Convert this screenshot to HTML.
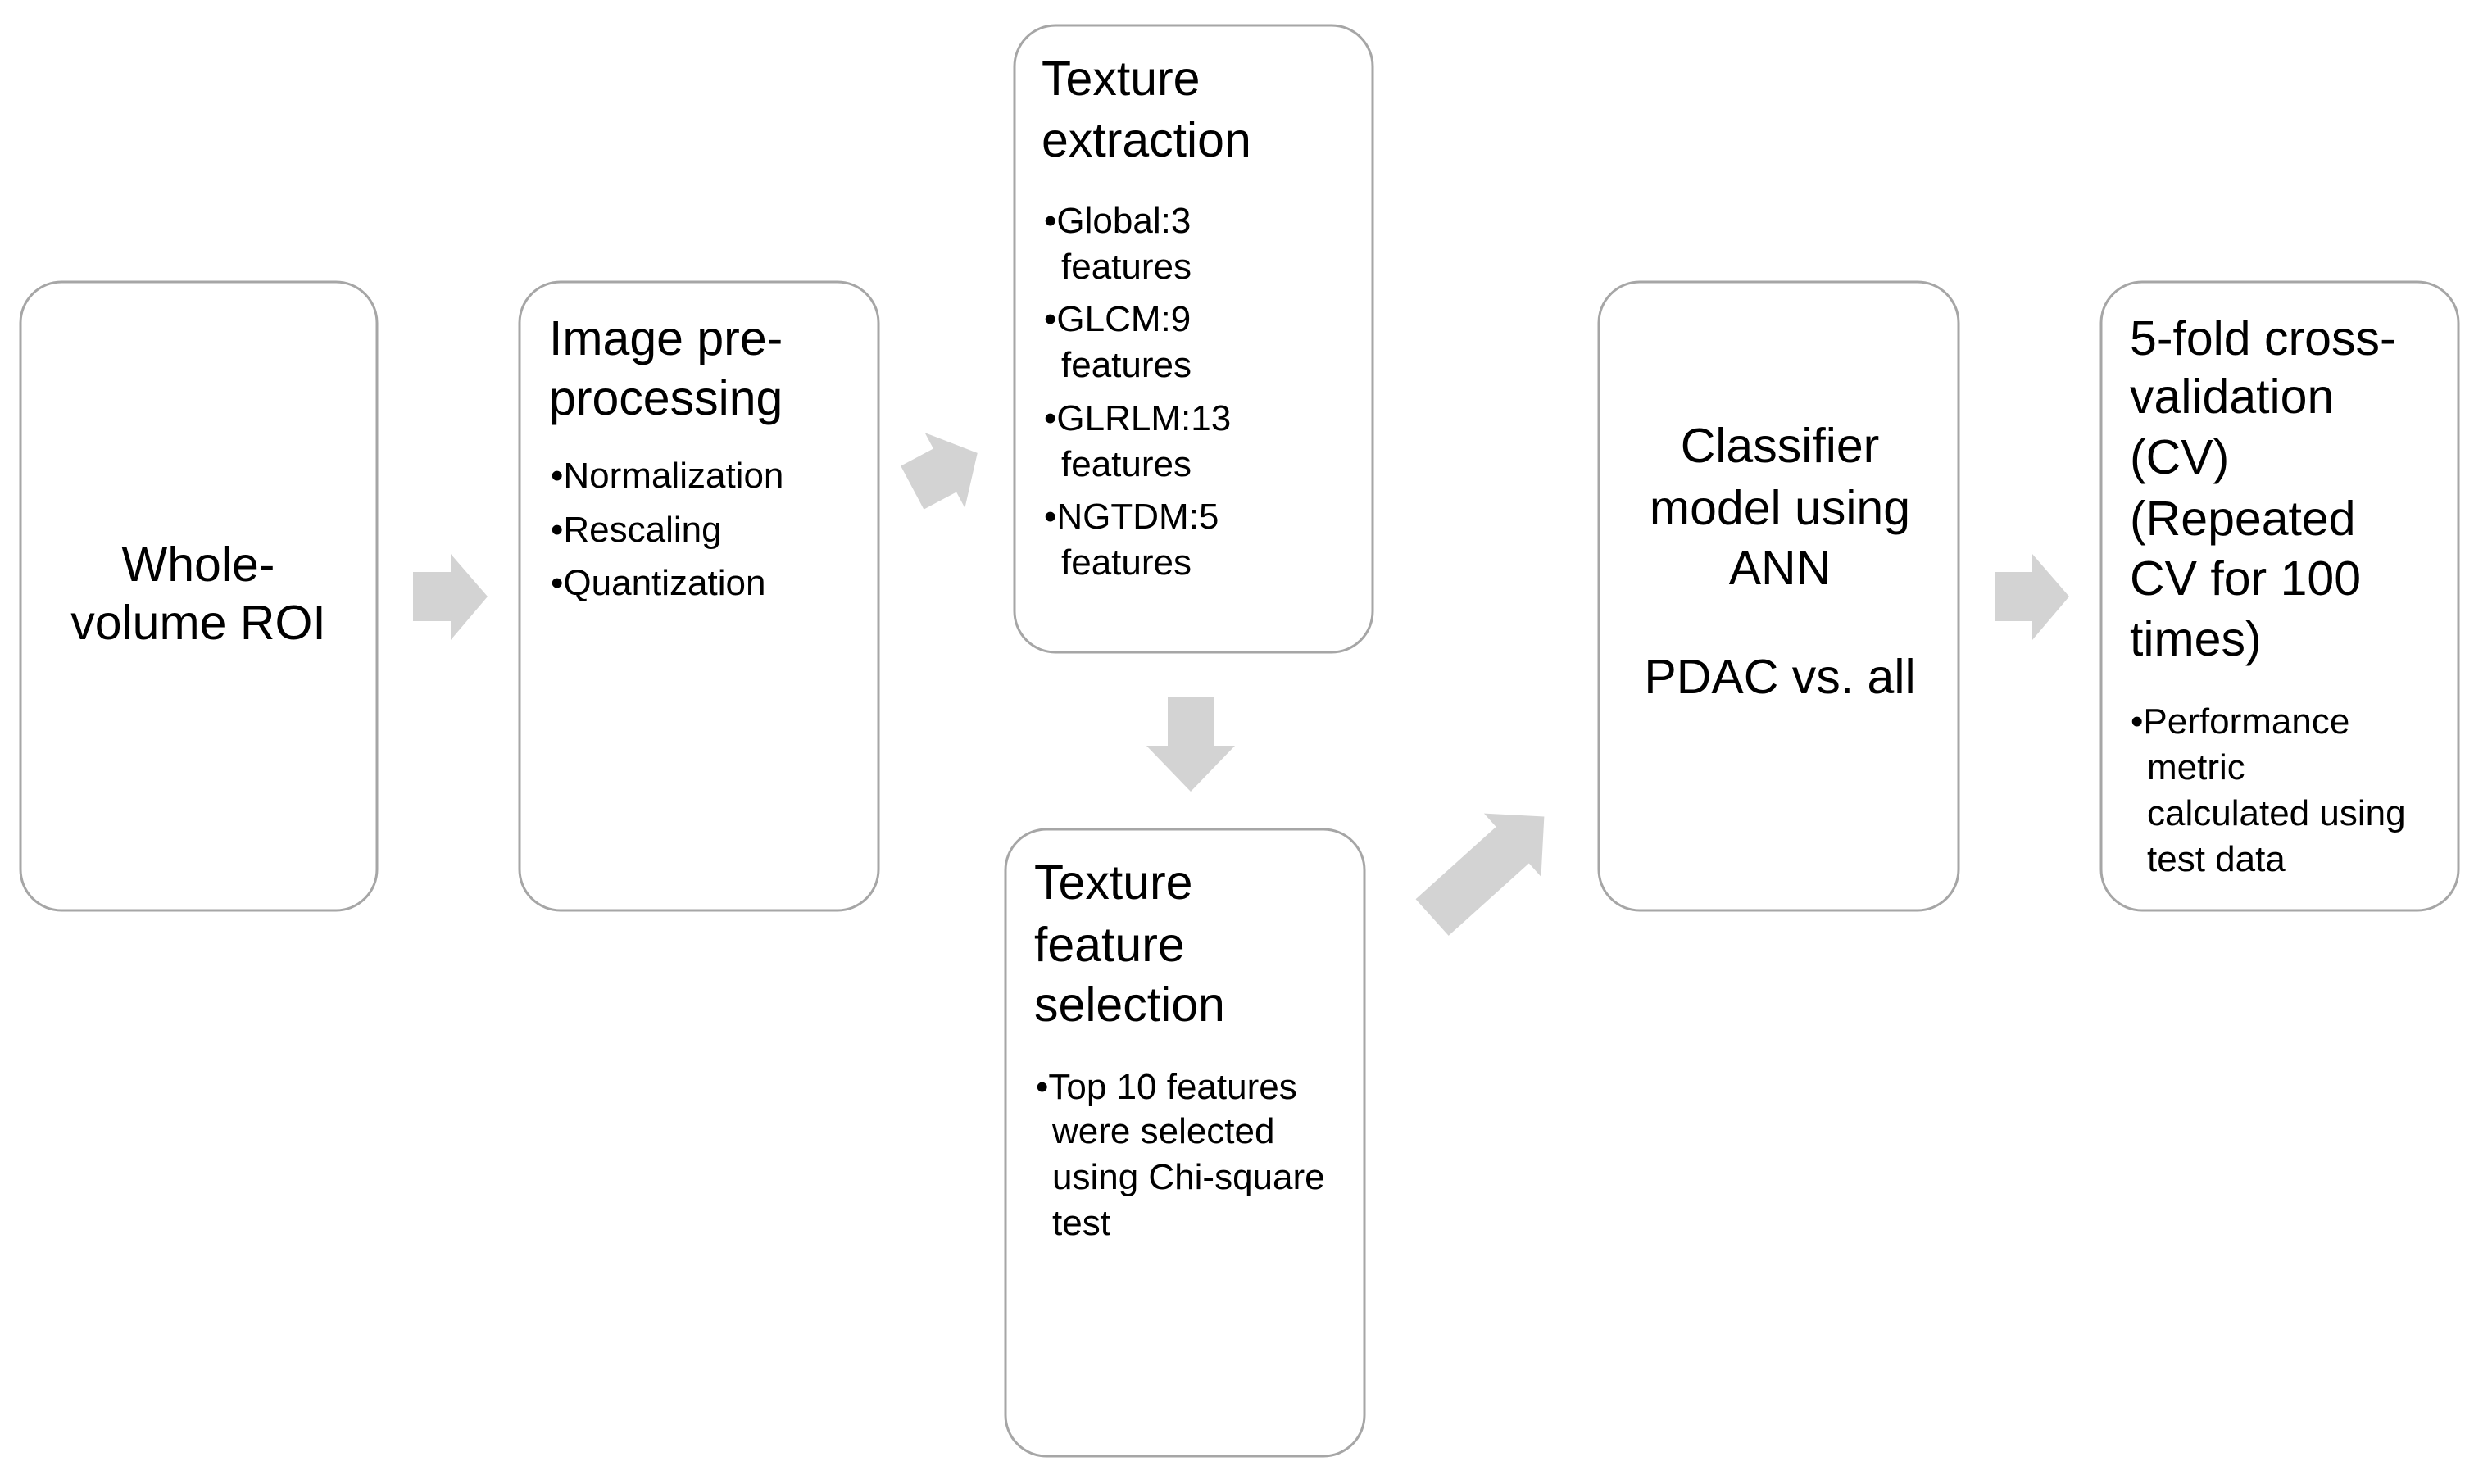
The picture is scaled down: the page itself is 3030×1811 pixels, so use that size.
<!DOCTYPE html>
<html><head><meta charset="utf-8"><style>html,body{margin:0;padding:0;background:#fff}svg{display:block}</style></head>
<body>
<svg width="3030" height="1811" viewBox="0 0 3030 1811" xmlns="http://www.w3.org/2000/svg" font-family="Liberation Sans, DejaVu Sans, sans-serif" fill="#000">
<g fill="#fff" stroke="#a6a6a6" stroke-width="3">
<rect x="25" y="344" width="435" height="767" rx="50"/>
<rect x="634" y="344" width="438" height="767" rx="50"/>
<rect x="1238" y="31" width="437" height="765" rx="50"/>
<rect x="1227" y="1012" width="438" height="765" rx="50"/>
<rect x="1951" y="344" width="439" height="767" rx="50"/>
<rect x="2564" y="344" width="436" height="767" rx="50"/>
</g>
<g fill="#d3d3d3">
<polygon points="504,698 550,698 550,676 595,728 550,781 550,758 504,758"/>
<polygon points="2434,698 2480,698 2480,676 2525,728 2480,781 2480,758 2434,758"/>
<polygon points="1425,850 1481,850 1481,910 1507,910 1453,966 1399,910 1425,910"/>
<g transform="translate(1153,574) rotate(-28)"><polygon points="-45,-30 0,-30 0,-52 45,0 0,52 0,30 -45,30"/></g>
<g transform="translate(1816,1058) rotate(-42)"><polygon points="-92,-30 40,-30 40,-52 92,0 40,52 40,30 -92,30"/></g>
</g>
<g font-size="59">
<text x="242" y="709" text-anchor="middle">Whole-</text>
<text x="242" y="780" text-anchor="middle">volume ROI</text>
<text x="670" y="433">Image pre-</text>
<text x="670" y="506">processing</text>
<text x="1271" y="116">Texture</text>
<text x="1271" y="191">extraction</text>
<text x="1262" y="1097">Texture</text>
<text x="1262" y="1173">feature</text>
<text x="1262" y="1246">selection</text>
<text x="2172" y="564" text-anchor="middle">Classifier</text>
<text x="2172" y="640" text-anchor="middle">model using</text>
<text x="2172" y="713" text-anchor="middle">ANN</text>
<text x="2172" y="846" text-anchor="middle">PDAC vs. all</text>
<text x="2599" y="433">5-fold cross-</text>
<text x="2599" y="504">validation</text>
<text x="2599" y="578">(CV)</text>
<text x="2599" y="653">(Repeated</text>
<text x="2599" y="726">CV for 100</text>
<text x="2599" y="800">times)</text>
</g>
<g font-size="44">
<text x="672" y="595">•Normalization</text>
<text x="672" y="661">•Rescaling</text>
<text x="672" y="726">•Quantization</text>
<text x="1274" y="284">•Global:3</text>
<text x="1295" y="340">features</text>
<text x="1274" y="404">•GLCM:9</text>
<text x="1295" y="460">features</text>
<text x="1274" y="525">•GLRLM:13</text>
<text x="1295" y="581">features</text>
<text x="1274" y="645">•NGTDM:5</text>
<text x="1295" y="701">features</text>
<text x="1264" y="1341">•Top 10 features</text>
<text x="1284" y="1395">were selected</text>
<text x="1284" y="1451">using Chi-square</text>
<text x="1284" y="1507">test</text>
<text x="2600" y="895">•Performance</text>
<text x="2620" y="951">metric</text>
<text x="2620" y="1007">calculated using</text>
<text x="2620" y="1063">test data</text>
</g>
</svg>
</body></html>
